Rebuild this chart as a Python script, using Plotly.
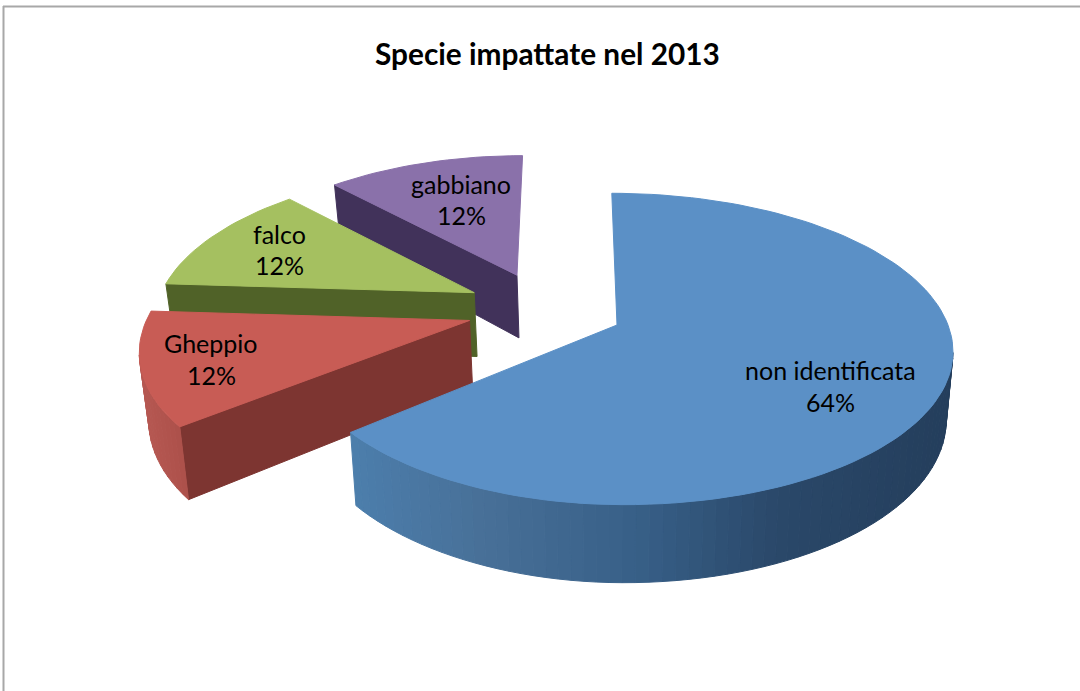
import math
import plotly.graph_objects as go

# ---- data ----
categories = ["non identificata", "Gheppio", "falco", "gabbiano"]
values = [64, 12, 12, 12]
percent_labels = ["64%", "12%", "12%", "12%"]
title_text = "Specie impattate nel 2013"

# ---- 3D pie geometry (circle plane -> screen) ----
CX, CY = 617.0, 325.0
A, B, K, SHEAR = 331.0, 152.0, 0.154, 6.0
LEFT_NARROW = 0.957
DEPTH = 66.0
XSHRINK = 0.98
EXPLODE = {"non identificata": (0, 0), "Gheppio": (-0.471, 0.03),
           "falco": (-0.462, 0.22), "gabbiano": (-0.32, 0.345)}
APEX_ADJ = {"non identificata": 0, "Gheppio": 0.024, "falco": 0.02, "gabbiano": 0.008}
TOP = {"non identificata": "#5b90c6", "Gheppio": "#c85c55",
       "falco": "#a5c060", "gabbiano": "#8a71aa"}
CUT = {"non identificata": (60, 100, 140), "Gheppio": (125, 53, 49),
       "falco": (80, 98, 40), "gabbiano": (65, 50, 90)}
ARC_STOPS = {
    "non identificata": [(350, (76, 126, 172)), (480, (72, 112, 152)), (640, (55, 95, 135)),
                         (780, (42, 72, 105)), (950, (36, 62, 92))],
    "Gheppio": [(140, (182, 88, 82)), (190, (170, 78, 72))],
    "falco": [(160, (90, 108, 48)), (290, (90, 108, 48))],
    "gabbiano": [(330, (75, 60, 100)), (525, (75, 60, 100))],
}
LABELS = {"non identificata": (830, 370, 402), "Gheppio": (211, 343, 375),
          "falco": (279, 234, 265), "gabbiano": (461, 184, 215)}
DRAW_ORDER = ["gabbiano", "falco", "Gheppio", "non identificata"]


def project(u, v):
    w = 1 + K * v
    return CX + (A * u - SHEAR * v) / w, CY - B * v / w, w


def drop(u, v):
    x, y, w = project(u, v)
    return CX + (x - CX) * XSHRINK, y + DEPTH / w


def ramp(stops, x):
    if x <= stops[0][0]:
        return stops[0][1]
    for (x0, c0), (x1, c1) in zip(stops, stops[1:]):
        if x <= x1:
            t = (x - x0) / (x1 - x0)
            return tuple(c0[i] + (c1[i] - c0[i]) * t for i in range(3))
    return stops[-1][1]


def css(c):
    return "rgb(%d,%d,%d)" % tuple(round(v) for v in c)


fig = go.Figure()


def poly(xs, ys, color):
    fig.add_trace(go.Scatter(x=xs + xs[:1], y=ys + ys[:1], mode="lines", fill="toself",
                             fillcolor=color, line=dict(color=color, width=1),
                             hoverinfo="skip", showlegend=False))


total = sum(values)
spans = {}
start = 0.0
for name, val in zip(categories, values):
    spans[name] = (start, start + 360.0 * val / total)
    start = spans[name][1]

for name in DRAW_ORDER:
    a0, a1 = spans[name]
    ox, oy = EXPLODE[name]
    n = max(8, int((a1 - a0) / 2))
    rim = []
    for i in range(n + 1):
        t = math.radians(a0 + (a1 - a0) * i / n)
        s = math.sin(t)
        rim.append((ox + (s * LEFT_NARROW if s < 0 else s), oy + math.cos(t)))
    apex = (ox + APEX_ADJ[name], oy)
    # straight cut faces
    for p, q in [(rim[-1], apex), (apex, rim[0])]:
        if project(*q)[0] < project(*p)[0] - 10 and name != "non identificata":
            p1, q1 = project(*p), project(*q)
            p2, q2 = drop(*p), drop(*q)
            poly([p1[0], q1[0], q2[0], p2[0]], [p1[1], q1[1], q2[1], p2[1]], css(CUT[name]))
    # curved outer wall
    for p, q in zip(rim, rim[1:]):
        if project(*q)[0] < project(*p)[0]:
            p1, q1 = project(*p), project(*q)
            p2, q2 = drop(*p), drop(*q)
            col = ramp(ARC_STOPS[name], (p1[0] + q1[0]) / 2)
            poly([p1[0], q1[0], q2[0], p2[0]], [p1[1], q1[1], q2[1], p2[1]], css(col))
    # top face
    pts = [project(*apex)] + [project(*r) for r in rim]
    poly([p[0] for p in pts], [p[1] for p in pts], TOP[name])

annotations = [dict(x=547, y=53.5, xref="x", yref="y", text="<b>%s</b>" % title_text, showarrow=False,
                    font=dict(family="Lato", size=29.8, color="black"))]
for name, pct in zip(categories, percent_labels):
    lx, y1, y2 = LABELS[name]
    for txt, ly in ((name, y1), (pct, y2)):
        annotations.append(dict(x=lx, y=ly, xref="x", yref="y", text=txt, showarrow=False,
                                font=dict(family="Lato", size=25, color="black")))

fig.update_layout(
    width=1080, height=691, margin=dict(l=0, r=0, t=0, b=0),
    paper_bgcolor="white", plot_bgcolor="white", showlegend=False,
    xaxis=dict(range=[0, 1080], visible=False, fixedrange=True),
    yaxis=dict(range=[691, 0], visible=False, fixedrange=True),
    annotations=annotations,
    shapes=[dict(type="line", x0=3.5, x1=3.5, y0=6, y1=691, line=dict(color="#a8a8a8", width=2)),
            dict(type="line", x0=3, x1=1080, y0=6.5, y1=6.5, line=dict(color="#a8a8a8", width=2))],
)
fig.write_html("out.html", config={"displayModeBar": False},
               post_script="document.body.style.margin='0';document.body.style.overflow='hidden';")
